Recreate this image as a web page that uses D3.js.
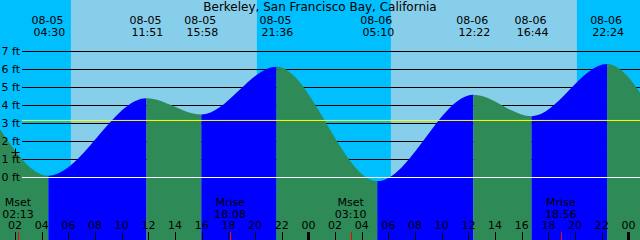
<!DOCTYPE html>
<meta charset="utf-8">
<style>
    body { margin: 0; }
    text {
        font-family: "DejaVu Sans";
        font-size: 11px;
        fill: black;
    }
    .title { font-size: 12px; }
</style>
<body>
    <script src="https://d3js.org/d3.v7.min.js"></script>
    <script>

        // tide extremes (first two and last two fall outside the view)
        var tideTimes = ["2024-08-04 14:20", "2024-08-04 20:40", "2024-08-05 04:30", "2024-08-05 11:51",
            "2024-08-05 15:58", "2024-08-05 21:36", "2024-08-06 05:10", "2024-08-06 12:22",
            "2024-08-06 16:44", "2024-08-06 22:24", "2024-08-07 06:10", "2024-08-07 13:00"];
        var tideHeights = [3.3, 5.9, 0.1, 4.4, 3.5, 6.15, -0.2, 4.6, 3.4, 6.3, -0.4, 4.8];

        var sunrises = ["2024-08-05 06:11", "2024-08-06 06:11"];
        var sunsets = ["2024-08-05 20:08", "2024-08-06 20:08"];

        var moonNames = ["Mset", "Mrise", "Mset", "Mrise"];
        var moonTimes = ["2024-08-05 02:13", "2024-08-05 18:08", "2024-08-06 03:10", "2024-08-06 18:56"];

        var ftTicks = [0, 1, 2, 3, 4, 5, 6, 7];
        var refLevel = 3.17;
        var nowTime = "2024-08-05 02:00", nowHeight = 1.42;

        var title = "Berkeley, San Francisco Bay, California";

        var width = 640, height = 240;
        var parse = d3.timeParse("%Y-%m-%d %H:%M");
        var fmtDay = d3.timeFormat("%m-%d"), fmtTime = d3.timeFormat("%H:%M"), fmtHour = d3.timeFormat("%H");

        var x = d3.scaleTime().domain([parse("2024-08-05 00:52"), parse("2024-08-07 00:52")]).range([0, width]);
        var y = d3.scaleLinear().domain([0, 7]).range([177.5, 51.5]);

        var tides = tideTimes.map(function(t, i) { return {t: parse(t), h: tideHeights[i]}; });

        var svg = d3.select("body").append("svg").attr("width", width).attr("height", height);

        // night background, then day bands
        svg.append("rect").attr("width", width).attr("height", height).attr("fill", "#00BFFF");
        sunrises.forEach(function(s, i) {
            svg.append("rect").attr("x", x(parse(s))).attr("y", 0)
                .attr("width", x(parse(sunsets[i])) - x(parse(s))).attr("height", height)
                .attr("fill", "#87CEEB");
        });

        // grid lines (under the water)
        svg.selectAll(".grid").data(ftTicks).enter().append("line")
            .attr("x1", 22).attr("x2", width)
            .attr("y1", function(d) { return y(d); }).attr("y2", function(d) { return y(d); })
            .attr("stroke", "black").attr("stroke-width", 1);

        // tide area, coloured rising / falling
        var area = d3.area().x(function(d) { return x(d.t); }).y0(height)
            .y1(function(d) { return y(d.h); }).curve(d3.curveMonotoneX);
        svg.append("clipPath").attr("id", "tide").append("path").datum(tides).attr("d", area);
        var bands = svg.append("g").attr("clip-path", "url(#tide)");
        for (var i = 0; i < tides.length - 1; i++) {
            bands.append("rect").attr("x", x(tides[i].t)).attr("y", 0)
                .attr("width", x(tides[i + 1].t) - x(tides[i].t)).attr("height", height)
                .attr("fill", tides[i + 1].h > tides[i].h ? "#0000FF" : "#2E8B57");
        }

        // zero and reference lines
        svg.append("line").attr("x1", 22).attr("x2", width).attr("y1", y(0)).attr("y2", y(0))
            .attr("stroke", "white").attr("stroke-width", 1);
        svg.append("line").attr("x1", 22).attr("x2", width).attr("y1", y(refLevel)).attr("y2", y(refLevel))
            .attr("stroke", "yellow").attr("stroke-width", 1);

        // feet labels
        svg.selectAll(".ft").data(ftTicks).enter().append("text")
            .attr("x", 20).attr("y", function(d) { return y(d); }).attr("dy", "0.35em")
            .attr("text-anchor", "end").text(function(d) { return d + " ft"; });

        // now marker
        var nx = Math.round(x(parse(nowTime))) + 0.5, ny = Math.round(y(nowHeight)) + 0.5;
        svg.append("path").attr("d", "M" + (nx - 4) + "," + ny + "H" + (nx + 4) + "M" + nx + "," + (ny - 4) + "V" + (ny + 4))
            .attr("stroke", "black").attr("stroke-width", 1);

        // title
        svg.append("text").attr("class", "title").attr("x", width / 2).attr("y", 11)
            .attr("text-anchor", "middle").text(title);

        // high / low labels
        var shown = tides.filter(function(d) { return d.t >= x.domain()[0] && d.t <= x.domain()[1]; });
        shown.forEach(function(d) {
            svg.append("text").attr("x", x(d.t) - 1).attr("y", 24).attr("text-anchor", "middle").text(fmtDay(d.t));
            svg.append("text").attr("x", x(d.t) + 1).attr("y", 36).attr("text-anchor", "middle").text(fmtTime(d.t));
        });

        // hour ticks
        var hours = x.ticks(d3.timeHour.every(2));
        hours.forEach(function(h) {
            var hx = Math.round(x(h)) + 0.5;
            var midnight = h.getHours() == 0;
            svg.append("line").attr("x1", hx).attr("x2", hx).attr("y1", 232).attr("y2", height)
                .attr("stroke", "black").attr("stroke-width", midnight ? 3 : 1);
            svg.append("text").attr("x", x(h)).attr("y", 229).attr("text-anchor", "middle").text(fmtHour(h));
        });

        // moon events
        moonTimes.forEach(function(m, i) {
            var t = parse(m), mx = Math.round(x(t)) + 0.5;
            svg.append("line").attr("x1", mx).attr("x2", mx).attr("y1", 232).attr("y2", height)
                .attr("stroke", "red").attr("stroke-width", 1);
            svg.append("text").attr("x", x(t)).attr("y", 205.5).attr("text-anchor", "middle").text(moonNames[i]);
            svg.append("text").attr("x", x(t)).attr("y", 217.5).attr("text-anchor", "middle").text(fmtTime(t));
        });
    </script>
</body>
